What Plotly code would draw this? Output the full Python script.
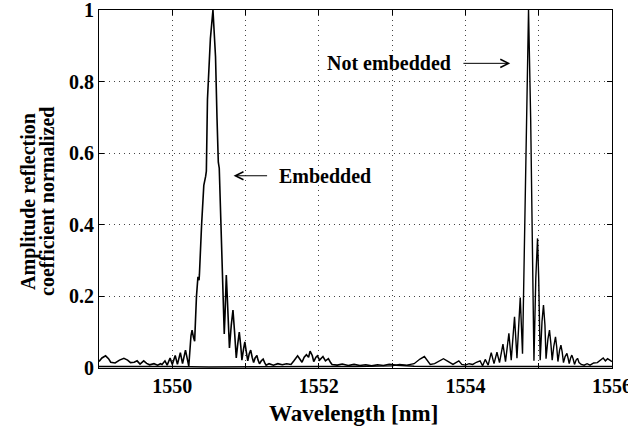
import plotly.graph_objects as go

# Embedded grating: noisy baseline left of 1553 nm and a broadened peak near 1550.55 nm
wl_embedded = [
    1549.00, 1549.04, 1549.09, 1549.13, 1549.16, 1549.22, 1549.28, 1549.34, 1549.39,
    1549.43, 1549.48, 1549.52, 1549.56, 1549.61, 1549.65, 1549.69, 1549.75, 1549.80,
    1549.84, 1549.86, 1549.90, 1549.93, 1549.97, 1550.00, 1550.04, 1550.07, 1550.11,
    1550.14, 1550.18, 1550.225, 1550.255, 1550.27, 1550.29, 1550.305, 1550.33, 1550.35,
    1550.365, 1550.37, 1550.40, 1550.43, 1550.455, 1550.465, 1550.48, 1550.50, 1550.52,
    1550.555, 1550.575, 1550.59, 1550.61, 1550.628, 1550.641, 1550.655, 1550.668,
    1550.69, 1550.709, 1550.72, 1550.737, 1550.75, 1550.78, 1550.805, 1550.828,
    1550.85, 1550.873, 1550.895, 1550.914, 1550.935, 1550.95, 1550.97, 1550.99,
    1551.01, 1551.03, 1551.05, 1551.07, 1551.09, 1551.11, 1551.13, 1551.155, 1551.17,
    1551.19, 1551.215, 1551.24, 1551.26, 1551.28, 1551.32, 1551.38, 1551.44, 1551.50,
    1551.56, 1551.62, 1551.66, 1551.71, 1551.74, 1551.77, 1551.80, 1551.83, 1551.86,
    1551.88, 1551.91, 1551.93, 1551.96, 1551.98, 1552.01, 1552.03, 1552.056, 1552.09,
    1552.13, 1552.16, 1552.18, 1552.25, 1552.32, 1552.40, 1552.48, 1552.56, 1552.64,
    1552.72, 1552.80, 1552.88, 1552.96, 1553.05, 1553.30, 1553.70, 1554.10, 1554.50,
    1554.90, 1555.30, 1555.70, 1556.00,
]
refl_embedded = [
    0.018, 0.028, 0.034, 0.026, 0.016, 0.014, 0.022, 0.027, 0.022,
    0.015, 0.016, 0.020, 0.011, 0.020, 0.013, 0.009, 0.012, 0.008,
    0.012, 0.010, 0.020, 0.008, 0.028, 0.010, 0.035, 0.010, 0.043,
    0.012, 0.050, 0.005, 0.090, 0.106, 0.085, 0.075, 0.200, 0.255,
    0.245, 0.260, 0.400, 0.510, 0.535, 0.550, 0.750, 0.850, 0.920,
    1.000, 0.940, 0.870, 0.700, 0.575, 0.558, 0.470, 0.376,
    0.227, 0.095, 0.150, 0.260, 0.200, 0.056, 0.120, 0.162,
    0.100, 0.028, 0.070, 0.100, 0.060, 0.022, 0.050, 0.073,
    0.045, 0.020, 0.040, 0.050, 0.030, 0.015, 0.028, 0.035, 0.022,
    0.012, 0.020, 0.025, 0.015, 0.008, 0.012, 0.008, 0.012, 0.009,
    0.012, 0.010, 0.020, 0.034, 0.025, 0.016, 0.030, 0.037, 0.030,
    0.047, 0.035, 0.018, 0.030, 0.034, 0.022, 0.026, 0.032, 0.020,
    0.026, 0.015, 0.010, 0.008, 0.011, 0.007, 0.010, 0.007, 0.009,
    0.006, 0.009, 0.007, 0.010, 0.008, 0.005, 0.004, 0.005, 0.004,
    0.004, 0.005, 0.004, 0.004,
]

# Free (not embedded) grating: sinc-like peak near 1554.86 nm
wl_free = [
    1549.00, 1549.50, 1550.00, 1550.50, 1551.00, 1551.50, 1552.00, 1552.50, 1553.00,
    1553.10, 1553.20, 1553.30, 1553.38, 1553.44, 1553.48, 1553.52, 1553.58, 1553.64,
    1553.70, 1553.75, 1553.83, 1553.87, 1553.91, 1553.95, 1554.00, 1554.05, 1554.10,
    1554.15, 1554.20, 1554.235, 1554.27, 1554.31, 1554.352, 1554.39, 1554.43, 1554.465,
    1554.512, 1554.547, 1554.593, 1554.625, 1554.670, 1554.703, 1554.748, 1554.779,
    1554.80, 1554.83, 1554.861, 1554.89, 1554.915, 1554.935, 1554.96, 1554.984,
    1555.00, 1555.02, 1555.045, 1555.065, 1555.085, 1555.10, 1555.125, 1555.147,
    1555.165, 1555.184, 1555.205, 1555.229, 1555.245, 1555.262, 1555.285, 1555.303,
    1555.32, 1555.338, 1555.36, 1555.385, 1555.40, 1555.416, 1555.435, 1555.452,
    1555.47, 1555.488, 1555.51, 1555.53, 1555.55, 1555.58, 1555.62, 1555.66, 1555.70,
    1555.75, 1555.80, 1555.85, 1555.88, 1555.91, 1555.94, 1555.97, 1556.00,
]
refl_free = [
    0.004, 0.005, 0.004, 0.003, 0.004, 0.005, 0.004, 0.004, 0.006,
    0.010, 0.008, 0.012, 0.025, 0.032, 0.022, 0.010, 0.012, 0.020,
    0.026, 0.020, 0.010, 0.015, 0.020, 0.010, 0.008, 0.012, 0.010,
    0.016, 0.020, 0.006, 0.024, 0.008, 0.043, 0.012, 0.044, 0.015,
    0.067, 0.018, 0.097, 0.022, 0.143, 0.027, 0.197, 0.040,
    0.300, 0.700, 1.000, 0.700, 0.300, 0.020, 0.250, 0.362,
    0.250, 0.022, 0.130, 0.176, 0.120, 0.026, 0.080, 0.106,
    0.070, 0.022, 0.060, 0.087, 0.060, 0.018, 0.050, 0.064,
    0.045, 0.015, 0.032, 0.041, 0.028, 0.012, 0.028, 0.036,
    0.025, 0.010, 0.022, 0.027, 0.015, 0.010, 0.008, 0.012, 0.008,
    0.014, 0.015, 0.024, 0.028, 0.020, 0.026, 0.022, 0.018,
]

x_tickvals = [1549, 1550, 1551, 1552, 1553, 1554, 1555, 1556]
x_ticktext = ["", "1550", "", "1552", "", "1554", "", "1556"]
y_tickvals = [0, 0.2, 0.4, 0.6, 0.8, 1]
y_ticktext = ["0", "0.2", "0.4", "0.6", "0.8", "1"]

SERIF = "Liberation Serif"
bold = dict(family=SERIF, size=20, color="black", weight="bold")

fig = go.Figure()
fig.add_trace(go.Scatter(x=wl_embedded, y=refl_embedded, mode="lines",
                         line=dict(color="black", width=1.6), name="Embedded"))
fig.add_trace(go.Scatter(x=wl_free, y=refl_free, mode="lines",
                         line=dict(color="black", width=1.4), name="Not embedded"))

axis_common = dict(
    showline=True, linecolor="black", linewidth=1, mirror="ticks",
    ticks="inside", ticklen=5, tickcolor="black",
    showgrid=True, gridcolor="#444", gridwidth=1, griddash="1px,4px",
    zeroline=False, ticklabeloverflow="allow", automargin=False,
)
fig.update_xaxes(range=[1549, 1556], tickvals=x_tickvals, ticktext=x_ticktext,
                 ticklabelstandoff=0, tickfont=bold, **axis_common)
fig.update_yaxes(range=[0, 1], tickvals=y_tickvals, ticktext=y_ticktext,
                 ticklabelstandoff=0, tickfont=bold, **axis_common)

# labels
fig.add_annotation(text="Wavelength [nm]", xref="paper", yref="paper", x=0.497, y=0,
                   yshift=-45, showarrow=False, font=dict(bold, size=23), yanchor="middle")
fig.add_annotation(text="Amplitude reflection", xref="paper", yref="paper", x=0, y=0.464,
                   xshift=-70, textangle=-90, showarrow=False, font=bold,
                   xanchor="center", yanchor="middle")
fig.add_annotation(text="coefficient normalized", xref="paper", yref="paper", x=0, y=0.464,
                   xshift=-52, textangle=-90, showarrow=False, font=bold,
                   xanchor="center", yanchor="middle")

# peak labels with arrows
fig.add_annotation(text="Embedded", x=1552.087, y=0.537, showarrow=False, font=bold)
fig.add_annotation(text="", x=1550.836, y=0.537, ax=1551.314, ay=0.537,
                   axref="x", ayref="y", showarrow=True, arrowhead=5,
                   arrowsize=1.6, arrowwidth=1, arrowcolor="black")
fig.add_annotation(text="Not embedded", x=1552.96, y=0.851, showarrow=False, font=bold)
fig.add_annotation(text="", x=1554.611, y=0.851, ax=1553.952, ay=0.851,
                   axref="x", ayref="y", showarrow=True, arrowhead=5,
                   arrowsize=1.6, arrowwidth=1, arrowcolor="black")

fig.update_layout(
    width=628, height=426,
    margin=dict(l=99, r=16, t=10, b=58),
    plot_bgcolor="white", paper_bgcolor="white",
    showlegend=False,
    font=dict(family=SERIF, color="black"),
)

# drop the browser's default body margin so the figure fills the window
fig.write_html("out.html", config={"displayModeBar": False},
               post_script="document.body.style.margin='0';")
